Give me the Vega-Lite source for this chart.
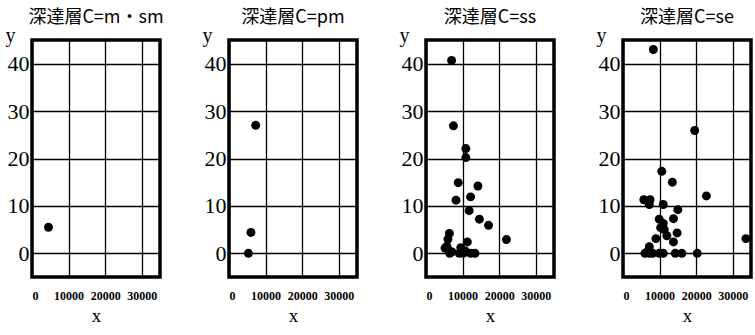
{
  "$schema": "https://vega.github.io/schema/vega-lite/v6.json",
  "padding": {"left": 3, "top": 9, "right": 0, "bottom": 0},
  "background": "white",
  "data": {"values": [
    {"c": "深達層C=m・sm", "x": 4500, "y": 5.5},
    {"c": "深達層C=pm", "x": 7300, "y": 27},
    {"c": "深達層C=pm", "x": 6000, "y": 4.4},
    {"c": "深達層C=pm", "x": 5300, "y": 0},
    {"c": "深達層C=ss", "x": 7000, "y": 40.7},
    {"c": "深達層C=ss", "x": 7500, "y": 26.9},
    {"c": "深達層C=ss", "x": 10900, "y": 22.1},
    {"c": "深達層C=ss", "x": 10900, "y": 20.2},
    {"c": "深達層C=ss", "x": 8800, "y": 14.9},
    {"c": "深達層C=ss", "x": 14200, "y": 14.2},
    {"c": "深達層C=ss", "x": 12200, "y": 11.9},
    {"c": "深達層C=ss", "x": 8200, "y": 11.2},
    {"c": "深達層C=ss", "x": 11800, "y": 9.0},
    {"c": "深達層C=ss", "x": 14600, "y": 7.2},
    {"c": "深達層C=ss", "x": 17100, "y": 5.9},
    {"c": "深達層C=ss", "x": 22000, "y": 2.9},
    {"c": "深達層C=ss", "x": 6400, "y": 4.2},
    {"c": "深達層C=ss", "x": 6000, "y": 3.0},
    {"c": "深達層C=ss", "x": 5200, "y": 1.1},
    {"c": "深達層C=ss", "x": 6100, "y": 0.7},
    {"c": "深達層C=ss", "x": 6500, "y": 0.0},
    {"c": "深達層C=ss", "x": 5700, "y": 1.5},
    {"c": "深達層C=ss", "x": 9500, "y": 1.2},
    {"c": "深達層C=ss", "x": 10200, "y": 0.0},
    {"c": "深達層C=ss", "x": 9100, "y": 0.0},
    {"c": "深達層C=ss", "x": 11300, "y": 2.4},
    {"c": "深達層C=ss", "x": 12200, "y": 0.0},
    {"c": "深達層C=ss", "x": 13400, "y": 0.0},
    {"c": "深達層C=ss", "x": 10700, "y": 0.5},
    {"c": "深達層C=ss", "x": 7100, "y": 0.3},
    {"c": "深達層C=se", "x": 8300, "y": 43.0},
    {"c": "深達層C=se", "x": 19600, "y": 25.9},
    {"c": "深達層C=se", "x": 10600, "y": 17.3},
    {"c": "深達層C=se", "x": 13500, "y": 15.0},
    {"c": "深達層C=se", "x": 22800, "y": 12.1},
    {"c": "深達層C=se", "x": 5700, "y": 11.3},
    {"c": "深達層C=se", "x": 7400, "y": 11.3},
    {"c": "深達層C=se", "x": 7200, "y": 10.3},
    {"c": "深達層C=se", "x": 11000, "y": 10.3},
    {"c": "深達層C=se", "x": 15000, "y": 9.2},
    {"c": "深達層C=se", "x": 9900, "y": 7.2},
    {"c": "深達層C=se", "x": 13800, "y": 7.3},
    {"c": "深達層C=se", "x": 11000, "y": 6.3},
    {"c": "深達層C=se", "x": 10300, "y": 5.4},
    {"c": "深達層C=se", "x": 11300, "y": 5.0},
    {"c": "深達層C=se", "x": 12000, "y": 3.7},
    {"c": "深達層C=se", "x": 14800, "y": 4.3},
    {"c": "深達層C=se", "x": 13800, "y": 2.4},
    {"c": "深達層C=se", "x": 9000, "y": 3.1},
    {"c": "深達層C=se", "x": 7200, "y": 1.4},
    {"c": "深達層C=se", "x": 33600, "y": 3.1},
    {"c": "深達層C=se", "x": 6000, "y": 0},
    {"c": "深達層C=se", "x": 7200, "y": 0},
    {"c": "深達層C=se", "x": 8100, "y": 0},
    {"c": "深達層C=se", "x": 9900, "y": 0},
    {"c": "深達層C=se", "x": 11000, "y": 0},
    {"c": "深達層C=se", "x": 14300, "y": 0},
    {"c": "深達層C=se", "x": 16100, "y": 0},
    {"c": "深達層C=se", "x": 20300, "y": 0},
    {"c": "深達層C=se", "x": 6600, "y": 0.3}
  ]},
  "facet": {
    "column": {
      "field": "c", "type": "nominal",
      "sort": ["深達層C=m・sm", "深達層C=pm", "深達層C=ss", "深達層C=se"],
      "header": {"title": null, "labelFont": "Noto Sans CJK JP", "labelFontSize": 18, "labelColor": "black", "labelPadding": 13}
    }
  },
  "spacing": 69,
  "bounds": "flush",
  "resolve": {"axis": {"x": "independent", "y": "independent"}},
  "spec": {
    "width": 128,
    "height": 237,
    "mark": {"type": "circle", "size": 80, "color": "black", "opacity": 1},
    "encoding": {
      "x": {
        "field": "x", "type": "quantitative",
        "scale": {"domain": [0, 35000], "nice": false, "zero": false},
        "axis": {
          "values": [0, 10000, 20000, 30000], "format": "d",
          "grid": true, "gridColor": "black", "gridWidth": 1.3, "gridOpacity": 1,
          "domain": false, "ticks": false, "labelOverlap": false,
          "labelFont": "Liberation Serif", "labelFontSize": 12, "labelFontWeight": "bold", "labelColor": "black", "labelPadding": 13,
          "title": "x", "titleFont": "Liberation Serif", "titleFontSize": 19, "titleFontWeight": "normal", "titleColor": "black", "titlePadding": 5
        }
      },
      "y": {
        "field": "y", "type": "quantitative",
        "scale": {"domain": [-5, 45], "nice": false, "zero": false},
        "axis": {
          "values": [0, 10, 20, 30, 40],
          "grid": true, "gridColor": "black", "gridWidth": 1.3, "gridOpacity": 1,
          "domain": false, "ticks": false,
          "labelFont": "Liberation Serif", "labelFontSize": 22, "labelColor": "black", "labelPadding": 3,
          "title": "y", "titleAngle": 0, "titleX": -22, "titleY": 1, "titleAlign": "center", "titleBaseline": "alphabetic",
          "titleFont": "Liberation Serif", "titleFontSize": 20, "titleFontWeight": "normal", "titleColor": "black"
        }
      }
    }
  },
  "config": {
    "view": {"stroke": "black", "strokeWidth": 3.5}
  }
}
